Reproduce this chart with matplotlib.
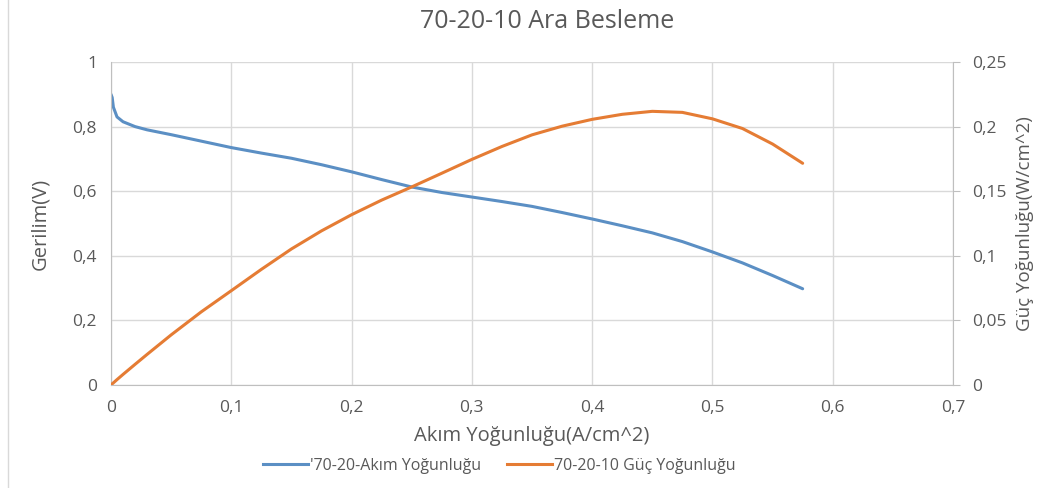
import matplotlib.pyplot as plt
from matplotlib.lines import Line2D

plt.switch_backend("Agg")
plt.rcParams["font.family"] = ["Open Sans", "DejaVu Sans"]

# Akım yoğunluğu (A/cm^2)
current = [0, 0.001, 0.002, 0.005, 0.01, 0.02, 0.03, 0.05, 0.075, 0.1, 0.125,
           0.15, 0.175, 0.2, 0.225, 0.25, 0.275, 0.3, 0.325, 0.35, 0.375, 0.4,
           0.425, 0.45, 0.475, 0.5, 0.525, 0.55, 0.575]
# Gerilim (V)
voltage = [0.90, 0.89, 0.86, 0.83, 0.815, 0.80, 0.79, 0.775, 0.755, 0.735, 0.718,
           0.702, 0.682, 0.660, 0.636, 0.613, 0.596, 0.582, 0.568, 0.553, 0.534,
           0.514, 0.493, 0.471, 0.444, 0.412, 0.378, 0.339, 0.298]
# Güç yoğunluğu (W/cm^2)
power = [0, 0.0009, 0.0017, 0.0042, 0.0082, 0.016, 0.0237, 0.0388, 0.0566,
         0.0730, 0.0895, 0.1053, 0.1193, 0.1318, 0.1431, 0.1533, 0.1639, 0.1746,
         0.1846, 0.1936, 0.2003, 0.2056, 0.2095, 0.2118, 0.2110, 0.2060, 0.1985,
         0.1865, 0.1716]

x_ticks = [0, 0.1, 0.2, 0.3, 0.4, 0.5, 0.6, 0.7]
x_labels = ["0", "0,1", "0,2", "0,3", "0,4", "0,5", "0,6", "0,7"]
y_ticks = [0, 0.2, 0.4, 0.6, 0.8, 1.0]
y_labels = ["0", "0,2", "0,4", "0,6", "0,8", "1"]
y2_ticks = [0, 0.05, 0.1, 0.15, 0.2, 0.25]
y2_labels = ["0", "0,05", "0,1", "0,15", "0,2", "0,25"]

BLUE = "#5B8FC4"
ORANGE = "#E57C34"
TEXT = "#595959"
GRID = "#D9D9D9"
AXIS = "#BFBFBF"

fig = plt.figure(figsize=(10.49, 4.88), dpi=100)
ax = fig.add_axes([0.1058, 0.211, 0.8027, 0.662])
ax2 = ax.twinx()

ax.plot(current, voltage, color=BLUE, linewidth=2.2, solid_capstyle="round")
ax2.plot(current, power, color=ORANGE, linewidth=2.2, solid_capstyle="round")

ax.set_xlim(0, 0.7)
ax.set_ylim(0, 1)
ax2.set_ylim(0, 0.25)

ax.set_xticks(x_ticks)
ax.set_xticklabels(x_labels)
ax.set_yticks(y_ticks)
ax.set_yticklabels(y_labels)
ax2.set_yticks(y2_ticks)
ax2.set_yticklabels(y2_labels)

ax.grid(True, color=GRID, linewidth=1)
ax.set_axisbelow(True)

for a in (ax, ax2):
    for s in a.spines.values():
        s.set_visible(False)
ax.spines["left"].set_visible(True)
ax.spines["left"].set_color(AXIS)
ax.spines["bottom"].set_visible(True)
ax.spines["bottom"].set_color(AXIS)
ax2.spines["right"].set_visible(True)
ax2.spines["right"].set_color(AXIS)

ax.tick_params(axis="y", length=0, labelsize=12.5, labelcolor=TEXT, pad=10)
ax.tick_params(axis="x", length=0, labelsize=12.5, labelcolor=TEXT, pad=11)
ax2.tick_params(axis="y", length=5, color=AXIS, labelsize=12.5, labelcolor=TEXT, pad=9)

ax.set_xlabel("Akım Yoğunluğu(A/cm^2)", fontsize=14.5, color=TEXT)
ax.set_ylabel("Gerilim(V)", fontsize=14.5, color=TEXT)
ax2.set_ylabel("Güç Yoğunluğu(W/cm^2)", fontsize=13.5, color=TEXT)
ax.xaxis.set_label_coords(0.5, -0.128)
ax.yaxis.set_label_coords(-0.072, 0.5)
ax2.yaxis.set_label_coords(1.075, 0.5)

fig.text(0.522, 0.955, "70-20-10 Ara Besleme", fontsize=18, color=TEXT,
         ha="center", va="center")

handles = [Line2D([], [], color=BLUE, linewidth=2.2),
           Line2D([], [], color=ORANGE, linewidth=2.2)]
fig.legend(handles, ["'70-20-Akım Yoğunluğu", "70-20-10 Güç Yoğunluğu"],
           loc="center", bbox_to_anchor=(0.476, 0.045), ncol=2, frameon=False,
           fontsize=11.5, labelcolor=TEXT, handlelength=2.8, columnspacing=1.6,
           handletextpad=0.15)

# chart frame line on the left
fig.add_artist(Line2D([0.008, 0.008], [0, 1], color=GRID, linewidth=1,
                      transform=fig.transFigure))

fig.savefig("out.png", dpi=100)
